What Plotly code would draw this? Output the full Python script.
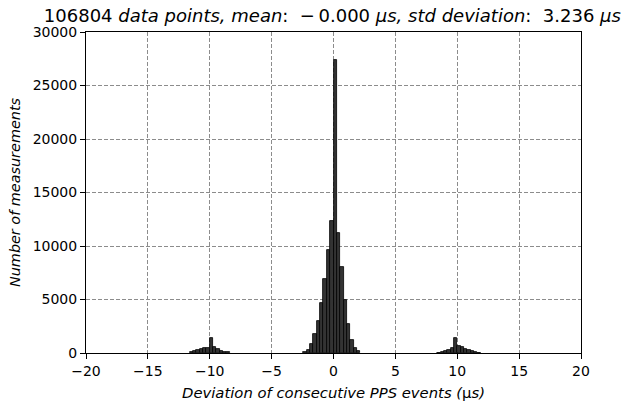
import plotly.graph_objects as go

# Histogram data (bin index k covers [k*w, (k+1)*w), w in microseconds)
bin_width = 10 / 37

center_bins = [-9, -8, -7, -6, -5, -4, -3, -2, -1, 0, 1, 2, 3, 4, 5, 6, 7]
center_counts = [120, 280, 840, 1780, 2990, 4670, 6880, 9620, 12340, 27380,
                 11240, 8010, 4950, 2710, 1210, 470, 190]

left_bins = [-43, -42, -41, -40, -39, -38, -37, -36, -35, -34, -33, -32]
left_counts = [60, 150, 250, 370, 440, 500, 1370, 560, 400, 220, 120, 50]

right_bins = [31, 32, 33, 34, 35, 36, 37, 38, 39, 40, 41, 42, 43]
right_counts = [30, 90, 190, 310, 470, 1400, 650, 530, 370, 250, 150, 60, 30]

x_ticks = [-20, -15, -10, -5, 0, 5, 10, 15, 20]
y_ticks = [0, 5000, 10000, 15000, 20000, 25000, 30000]

bins = left_bins + center_bins + right_bins
counts = left_counts + center_counts + right_counts
centers = [(k + 0.5) * bin_width for k in bins]

fig = go.Figure()
fig.add_trace(go.Bar(
    x=centers, y=counts, width=bin_width,
    marker=dict(color="#333333", line=dict(color="#000000", width=0.8)),
    showlegend=False,
))

font_family = "DejaVu Sans"
axis_common = dict(
    showline=True, linecolor="black", linewidth=1, mirror=True,
    ticks="outside", ticklen=5, tickcolor="black", tickwidth=1,
    showgrid=True, gridcolor="#8c8c8c", griddash="4px,2px", gridwidth=1,
    zeroline=False, automargin=False,
    tickfont=dict(family=font_family, size=14, color="black"),
)

fig.update_xaxes(
    range=[-20, 20], tickvals=x_ticks,
    ticktext=[("\u2212" + str(-v)) if v < 0 else str(v) for v in x_ticks],
    title=dict(text="<i>Deviation of consecutive PPS events (</i>μ<i>s)</i>",
               font=dict(family=font_family, size=14.8, color="black"), standoff=9),
    **axis_common,
)
fig.update_yaxes(
    range=[0, 30000], tickvals=y_ticks, ticktext=[str(v) for v in y_ticks],
    title=dict(text="<i>Number of measurements</i>",
               font=dict(family=font_family, size=14.4, color="black"), standoff=8),
    **axis_common,
)

fig.update_layout(
    width=626, height=403,
    margin=dict(l=86, r=45, t=32, b=50),
    paper_bgcolor="white", plot_bgcolor="white",
    bargap=0,
    title=dict(
        text="106804 <i>data points, mean</i>:  \u2212\u20090.000 <i>μs, std deviation</i>:  3.236 <i>μs</i>",
        font=dict(family=font_family, size=18, color="black"),
        x=0.531, xanchor="center", y=0.961, yanchor="middle",
    ),
    font=dict(family=font_family, color="black"),
)

fig.write_html("out.html", config={"displayModeBar": False},
               post_script="document.body.style.margin='0px';")
